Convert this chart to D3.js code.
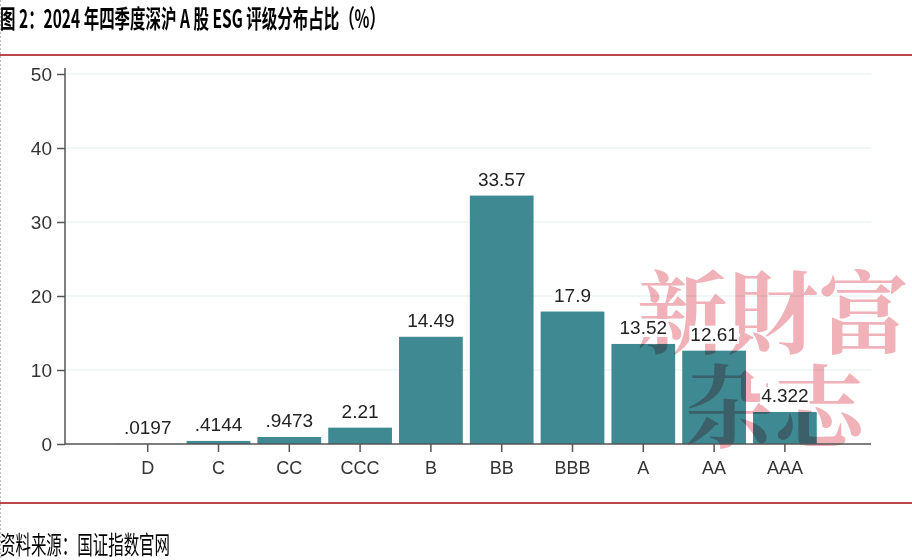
<!DOCTYPE html>
<html><head><meta charset="utf-8">
<script src="https://cdn.jsdelivr.net/npm/d3@7"></script>
<style>body{margin:0;background:#fff}svg{display:block}</style>
</head><body>
<script>
const categories = ["D","C","CC","CCC","B","BB","BBB","A","AA","AAA"];
const values = [0.0197,0.4144,0.9473,2.21,14.49,33.57,17.9,13.52,12.61,4.322];
const valueLabels = [".0197",".4144",".9473","2.21","14.49","33.57","17.9","13.52","12.61","4.322"];
const yTicks = [0,10,20,30,40,50];
const title = "图 2：2024 年四季度深沪 A 股 ESG 评级分布占比（%）";
const source = "资料来源：国证指数官网";

const W = 912, H = 560;
const svg = d3.select("body").append("svg").attr("width", W).attr("height", H);

svg.append("line").attr("x1",0.5).attr("x2",0.5).attr("y1",0).attr("y2",H)
  .attr("stroke","#bbb").attr("stroke-dasharray","2,2");

svg.append("text").text(title)
  .attr("x",0).attr("y",28)
  .attr("font-family","'Noto Sans CJK SC', sans-serif")
  .attr("font-weight","bold").attr("font-size",25).attr("fill","#000")
  .attr("textLength",385).attr("lengthAdjust","spacingAndGlyphs");

svg.append("line").attr("x1",0).attr("x2",W).attr("y1",55).attr("y2",55)
  .attr("stroke","#a50d0d").attr("stroke-width",1.5);
svg.append("line").attr("x1",0).attr("x2",W).attr("y1",503).attr("y2",503)
  .attr("stroke","#a50d0d").attr("stroke-width",1.5);

svg.append("text").text(source)
  .attr("x",0).attr("y",554)
  .attr("font-family","'Noto Sans CJK SC', sans-serif")
  .attr("font-size",25).attr("fill","#000")
  .attr("textLength",170).attr("lengthAdjust","spacingAndGlyphs");

const y = d3.scaleLinear().domain([0,50]).range([444,74]);
const x = d3.scaleBand().domain(categories).range([112.3,820.3]).paddingInner(0.1).paddingOuter(0.05);
const axisX0 = 65, axisX1 = 871;

svg.append("g").selectAll("line").data(yTicks.filter(d=>d>0)).join("line")
  .attr("x1",axisX0).attr("x2",axisX1)
  .attr("y1",d=>y(d)).attr("y2",d=>y(d))
  .attr("stroke","#e4eef0").attr("stroke-width",1.2);

svg.append("g").selectAll("rect").data(values).join("rect")
  .attr("x",(d,i)=>x(categories[i]))
  .attr("width",x.bandwidth())
  .attr("y",d=>y(d))
  .attr("height",d=>y(0)-y(d))
  .attr("fill","#3e8992");

const wm = svg.append("g").style("mix-blend-mode","multiply")
  .attr("font-family","'Noto Serif CJK SC','Noto Sans CJK SC', serif")
  .attr("fill","#f0b2b8").attr("font-size",90).attr("font-weight","bold");
wm.append("text").attr("x",637).attr("y",346).text("新財富")
  .attr("textLength",272).attr("lengthAdjust","spacingAndGlyphs");
wm.append("text").attr("x",684).attr("y",440).text("杂志")
  .attr("textLength",180).attr("lengthAdjust","spacingAndGlyphs");

const lg = svg.append("g");
const labels = lg.selectAll("g").data(values).join("g")
  .attr("transform",(d,i)=>`translate(${x(categories[i])+x.bandwidth()/2},${y(d)-10})`);
labels.append("text")
  .attr("text-anchor","middle")
  .attr("font-family","'Liberation Sans', Arial, sans-serif")
  .attr("font-size",19).attr("fill","#222")
  .text((d,i)=>valueLabels[i]);
labels.each(function(){
  const g = d3.select(this);
  const b = g.select("text").node().getBBox();
  g.insert("rect","text").attr("x",b.x-1).attr("y",b.y+2).attr("width",b.width+2).attr("height",b.height-3).attr("fill","#fff");
});

const yAxis = d3.axisLeft(y).tickValues(yTicks).tickSize(8).tickPadding(5).tickFormat(d3.format("d"));
const gy = svg.append("g").attr("transform",`translate(${axisX0},0)`).call(yAxis);
gy.select(".domain").attr("d",`M0,${y(50)-6}V${y(0)}`).attr("stroke","#555").attr("stroke-width",1.5);
gy.selectAll(".tick line").attr("stroke","#555").attr("stroke-width",1.5);
gy.selectAll(".tick text").attr("font-family","'Liberation Sans', Arial, sans-serif")
  .attr("font-size",19).attr("fill","#333");

const xAxis = d3.axisBottom(x).tickSize(8).tickPadding(9);
const gx = svg.append("g").attr("transform",`translate(0,${y(0)})`).call(xAxis);
gx.select(".domain").attr("d",`M${axisX0},0H${axisX1}`).attr("stroke","#555").attr("stroke-width",1.5);
gx.selectAll(".tick line").attr("stroke","#555").attr("stroke-width",1.5);
gx.selectAll(".tick text").attr("font-family","'Liberation Sans', Arial, sans-serif")
  .attr("font-size",18).attr("fill","#333");
</script>
</body></html>
